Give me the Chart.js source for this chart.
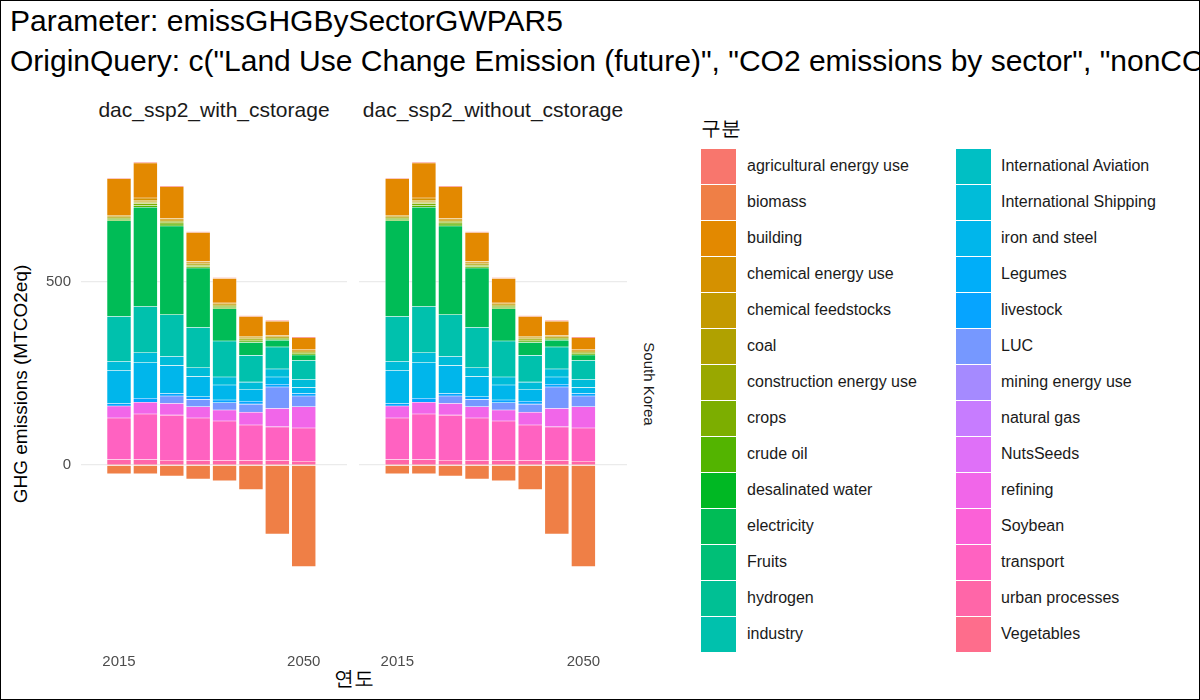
<!DOCTYPE html>
<html><head><meta charset="utf-8">
<script src="https://cdn.jsdelivr.net/npm/chart.js@4"></script>
<style>
html,body{margin:0;padding:0;}
body{width:1198px;height:698px;border:1px solid #000;position:relative;overflow:hidden;background:#fff;font-family:"Liberation Sans",Arial,sans-serif;}
.abs{position:absolute;}
.t{font-size:30px;color:#000;white-space:nowrap;left:9px;}
.strip{font-size:21px;color:#1a1a1a;top:97px;height:30px;overflow:hidden;display:flex;justify-content:center;white-space:nowrap;}
.leg{font-size:16px;color:#1a1a1a;}
.key{width:35px;height:35px;}
</style></head><body>
<div class="abs t" style="top:3px">Parameter: emissGHGBySectorGWPAR5</div>
<div class="abs t" style="top:43px">OriginQuery: c("Land Use Change Emission (future)", "CO2 emissions by sector", "nonCO2 emissions by sector")</div>
<div class="abs strip" style="left:80px;width:266px"><span>dac_ssp2_with_cstorage</span></div>
<div class="abs strip" style="left:358px;width:268px"><span>dac_ssp2_without_cstorage</span></div>
<div class="abs" style="top:383px;font-size:15px;color:#1a1a1a;transform:translate(-50%,-50%) rotate(90deg);white-space:nowrap;left:648px">South Korea</div>
<div class="abs" style="left:20px;top:383px;font-size:19px;color:#000;transform:translate(-50%,-50%) rotate(-90deg);white-space:nowrap">GHG emissions (MTCO2eq)</div>
<div class="abs" style="left:353px;top:664px;font-size:20px;color:#000;transform:translateX(-50%)">연도</div>
<div class="abs" style="left:0;top:115px;width:346px;height:555px"><canvas id="c1"></canvas></div>
<div class="abs" style="left:278px;top:115px;width:348px;height:555px"><canvas id="c2"></canvas></div>
<div class="abs" style="left:700px;top:114px;font-size:20px;color:#000">구분</div>
<div id="legend"></div>
<script>
const years=[2015,2020,2025,2030,2035,2040,2045,2050];
const categories=["agricultural energy use","biomass","building","chemical energy use","chemical feedstocks","coal","construction energy use","crops","crude oil","desalinated water","electricity","Fruits","hydrogen","industry","International Aviation","International Shipping","iron and steel","Legumes","livestock","LUC","mining energy use","natural gas","NutsSeeds","refining","Soybean","transport","urban processes","Vegetables"];
const agricultural=[2,2,2,2,2,2,2,2];
const biomass=[-24,-24,-30,-38,-43,-67,-188,-277];
const building=[100,96,87,79,67,54,39,33];
const chemicalEnergy=[3,6,4,4,3,3,3,3];
const chemicalFeed=[2,4,2,3,2,3,2,2];
const coal=[1,2,1,2,2,2,1,2];
const construction=[2,3,3,2,2,2,2,2];
const crops=[3,5,5,3,3,3,2,2];
const crudeOil=[4,5,5,4,4,4,3,3];
const electricity=[261,271,242,162,88,35,18,15];
const industry=[123,126,114,110,98,73,60,52];
const shipping=[24,27,25,24,22,21,22,22];
const ironSteel=[90,97,76,55,41,31,20,16];
const livestock=[7,11,7,7,7,8,7,7];
const luc=[0,0,20,20,20,22,59,29];
const refining=[33,32,32,31,30,35,50,58];
const transport=[113,124,123,116,108,97,92,91];
const urban=[13,13,11,10,10,10,10,8];
const vegetables=[2,2,2,2,2,2,2,2];
const zero=[0,0,0,0,0,0,0,0];
const series={"agricultural energy use":agricultural,"biomass":biomass,"building":building,"chemical energy use":chemicalEnergy,"chemical feedstocks":chemicalFeed,"coal":coal,"construction energy use":construction,"crops":crops,"crude oil":crudeOil,"electricity":electricity,"industry":industry,"International Shipping":shipping,"iron and steel":ironSteel,"livestock":livestock,"LUC":luc,"refining":refining,"transport":transport,"urban processes":urban,"Vegetables":vegetables};

function hcl(h,c,l){
  const r=h*Math.PI/180,u=c*Math.cos(r),v=c*Math.sin(r);
  const Y=Math.pow((l+16)/116,3);
  const un=0.1978398,vn=0.4683363;
  const up=u/(13*l)+un,vp=v/(13*l)+vn;
  const X=Y*9*up/(4*vp),Z=Y*(12-3*up-20*vp)/(4*vp);
  const lin=[3.2404542*X-1.5371385*Y-0.4985314*Z,-0.9692660*X+1.8760108*Y+0.0415560*Z,0.0556434*X-0.2040259*Y+1.0572252*Z];
  const g=lin.map(x=>{x=x<=0.0031308?12.92*x:1.055*Math.pow(x,1/2.4)-0.055;return Math.round(Math.max(0,Math.min(1,x))*255);});
  return `rgb(${g[0]},${g[1]},${g[2]})`;
}
const colors=categories.map((_,i)=>hcl(15+360*i/28,100,65));

const leg=document.getElementById('legend');
categories.forEach((c,i)=>{
  const col=Math.floor(i/14),row=i%14;
  const kx=col?955:700, tx=col?1000:746, y=148+row*36;
  leg.insertAdjacentHTML('beforeend',`<div class="abs key" style="left:${kx}px;top:${y}px;background:${colors[i]}"></div><div class="abs leg" style="left:${tx}px;top:${y+8}px">${c}</div>`);
});

function datasets(){
  const ds=[];
  for(let i=categories.length-1;i>=0;i--){
    const d=series[categories[i]]||zero;
    ds.push({label:categories[i],data:years.map((y,j)=>({x:y,y:d[j]})),backgroundColor:colors[i],borderColor:'rgba(255,255,255,0.35)',borderWidth:0.6,barThickness:24,borderSkipped:false});
  }
  return ds;
}
function make(id,showY){
  new Chart(document.getElementById(id),{type:'bar',data:{datasets:datasets()},
    options:{responsive:true,maintainAspectRatio:false,animation:false,
      layout:{padding:0},
      plugins:{legend:{display:false},tooltip:{enabled:false}},
      scales:{
        x:{type:'linear',offset:false,stacked:true,min:2007.8,max:2058.2,grid:{display:false,offset:false},border:{display:false},
           afterBuildTicks:a=>{a.ticks=[{value:2015},{value:2050}];},
           ticks:{color:'#4d4d4d',font:{size:15,family:'Liberation Sans'},padding:4,callback:v=>String(v)},
           afterFit:a=>{a.height=30;}},
        y:{stacked:true,min:-480,max:900,grid:{color:'#ebebeb',lineWidth:1.2,drawTicks:false},border:{display:false},
           afterBuildTicks:a=>{a.ticks=[{value:0},{value:500}];},
           ticks:{color:showY?'#4d4d4d':'rgba(0,0,0,0)',font:{size:15,family:'Liberation Sans'},padding:10},
           afterFit:a=>{a.width=80;}}
      }}});
}
make('c1',true);make('c2',false);
</script>
</body></html>
